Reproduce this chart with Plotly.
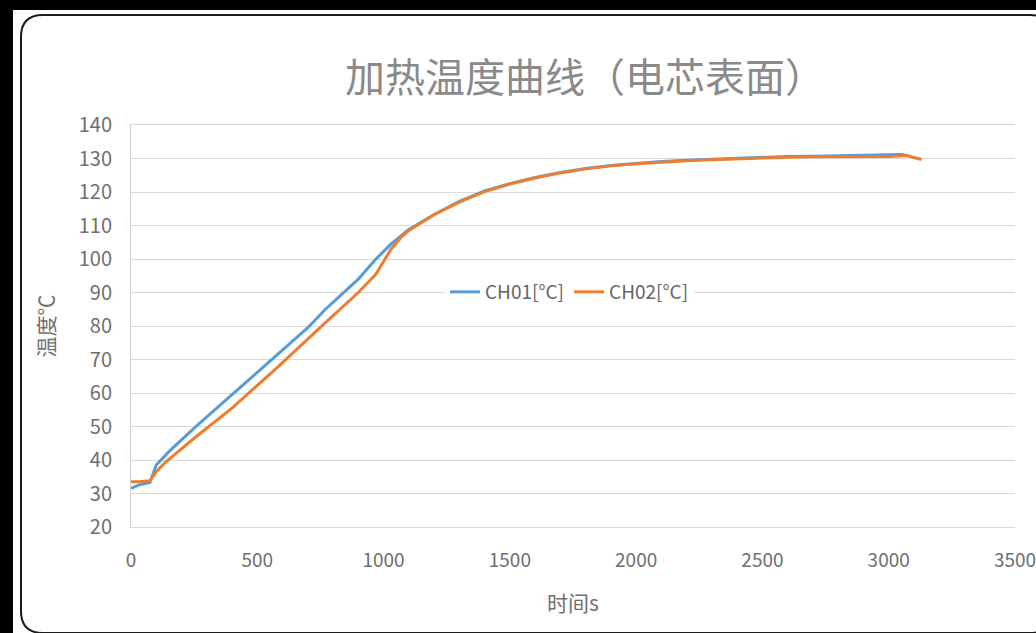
import plotly.graph_objects as go

# time in seconds, temperature in degC
time_ch01 = [0, 30, 75, 100, 150, 250, 400, 570, 700, 770, 900, 970, 1030,
             1100, 1200, 1300, 1400, 1500, 1600, 1700, 1800, 1900, 2000,
             2100, 2200, 2300, 2400, 2500, 2600, 2700, 2800, 2900, 3000,
             3050, 3080]
temp_ch01 = [31.5, 32.5, 33.3, 38.5, 42.5, 49.5, 59.5, 71.0, 79.5, 85.0,
             94.0, 100.0, 104.5, 108.8, 113.3, 117.2, 120.3, 122.5, 124.3,
             125.8, 127.0, 127.9, 128.6, 129.1, 129.5, 129.8, 130.1, 130.4,
             130.6, 130.7, 130.8, 130.9, 131.0, 131.2, 130.8]

time_ch02 = [0, 30, 75, 100, 135, 250, 400, 570, 770, 900, 970, 1030, 1070,
             1100, 1200, 1300, 1400, 1500, 1600, 1700, 1800, 1900, 2000,
             2100, 2200, 2300, 2400, 2500, 2600, 2700, 2800, 2900, 3000,
             3070, 3100, 3130]
temp_ch02 = [33.5, 33.5, 33.8, 36.5, 39.2, 46.5, 55.5, 67.0, 81.0, 90.0,
             95.5, 103.0, 106.5, 108.5, 113.2, 117.0, 120.1, 122.4, 124.2,
             125.7, 126.9, 127.8, 128.4, 128.9, 129.3, 129.6, 129.9, 130.2,
             130.4, 130.5, 130.6, 130.7, 130.6, 130.9, 130.3, 129.7]

x_ticks = [0, 500, 1000, 1500, 2000, 2500, 3000, 3500]
y_ticks = [20, 30, 40, 50, 60, 70, 80, 90, 100, 110, 120, 130, 140]

W, H = 1036, 633
L, R, T, B = 131, 21, 125, 106
PW, PH = W - L - R, H - T - B


def px(x, y):
    # page pixel -> paper coords (used only for the decorative frame)
    return (x - L) / PW, (H - B - y) / PH


def rounded_path(x0, y0, x1, y1, r):
    pts = [("M", [(x0 + r, y0)]), ("L", [(x1 - r, y0)]), ("Q", [(x1, y0), (x1, y0 + r)]),
           ("L", [(x1, y1 - r)]), ("Q", [(x1, y1), (x1 - r, y1)]),
           ("L", [(x0 + r, y1)]), ("Q", [(x0, y1), (x0, y1 - r)]),
           ("L", [(x0, y0 + r)]), ("Q", [(x0, y0), (x0 + r, y0)])]
    s = ""
    for cmd, ps in pts:
        s += cmd + " " + " ".join("%.5f,%.5f" % px(a, b) for a, b in ps) + " "
    return s + "Z"


fig = go.Figure()

fig.add_trace(go.Scatter(x=time_ch01, y=temp_ch01, name="CH01[°C]", mode="lines",
                         line=dict(color="#5B9BD5", width=3)))
fig.add_trace(go.Scatter(x=time_ch02, y=temp_ch02, name="CH02[°C]", mode="lines",
                         line=dict(color="#ED7D31", width=3)))

# outer white sheet + rounded dark-edged panel behind the chart
ox0, oy0 = px(13, 10)
ox1, oy1 = px(1040, 640)
fig.add_shape(type="rect", xref="paper", yref="paper", x0=ox0, y0=oy1, x1=ox1, y1=oy0,
              fillcolor="white", line_width=0, layer="below")
fig.add_shape(type="path", xref="paper", yref="paper",
              path=rounded_path(21, 15, 1052, 633, 22),
              fillcolor="white", line=dict(color="#1c1c1c", width=2), layer="below")

fig.update_layout(
    width=W, height=H, autosize=False,
    margin=dict(l=L, r=R, t=T, b=B, autoexpand=False),
    paper_bgcolor="black",
    plot_bgcolor="rgba(0,0,0,0)",
    font=dict(family="Noto Sans CJK SC", color="#6f6f6f"),
    title=dict(text="加热温度曲线（电芯表面）", xref="paper", x=(585 - L) / PW,
               xanchor="center", y=1 - 78 / H, yanchor="middle",
               font=dict(size=40, color="#8a8a8a")),
    showlegend=True,
    legend=dict(orientation="h", x=(445 - L) / PW, y=(H - B - 292) / PH,
                xanchor="left", yanchor="middle", bgcolor="white",
                font=dict(size=19, color="#666666")),
    xaxis=dict(range=[0, 3500], tickvals=x_ticks, showgrid=False, zeroline=False,
               showline=True, mirror=True, linecolor="#d9d9d9", linewidth=1,
               automargin=False,
               ticks="", ticklabelstandoff=16, ticklabeloverflow="allow",
               tickfont=dict(size=19, color="#6f6f6f"),
               title=dict(text="时间s", standoff=25, font=dict(size=21, color="#6f6f6f"))),
    yaxis=dict(range=[20, 140], tickvals=y_ticks, showgrid=True, gridcolor="#d9d9d9",
               gridwidth=1, zeroline=False, showline=True, linecolor="#d0d0d0",
               automargin=False, ticks="", ticklabelstandoff=14,
               tickfont=dict(size=20, color="#6f6f6f"),
               title=dict(text="温度℃", standoff=18, font=dict(size=21, color="#6f6f6f"))),
)

fig.write_html("out.html", config={"displayModeBar": False},
               post_script="document.body.style.margin='0';")
